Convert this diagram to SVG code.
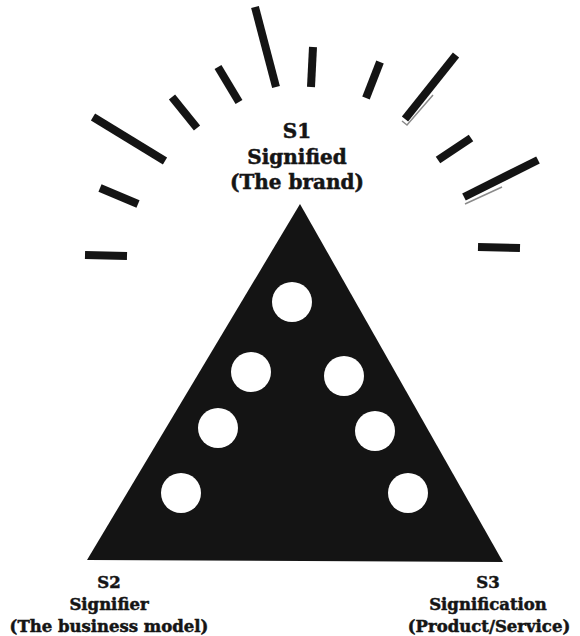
<svg xmlns="http://www.w3.org/2000/svg" width="580" height="636" viewBox="0 0 580 636">
<style>
.ray{stroke:#141414;stroke-width:8;stroke-linecap:butt;fill:none}
.shadow{stroke:#8a8a8a;stroke-width:1.5;fill:none}
.lbl{font-family:"DejaVu Serif","Liberation Serif",serif;font-weight:bold;fill:#151515;stroke:#151515;stroke-width:0.5;text-anchor:middle}
.top{font-size:20px}
.bot{font-size:16.5px}
.hole{fill:#ffffff}
</style>
<rect width="580" height="636" fill="#ffffff"/>
<g id="rays">
<line class="ray" x1="255" y1="7" x2="276" y2="87"/>
<line class="ray" x1="218" y1="67" x2="239" y2="102"/>
<line class="ray" x1="172" y1="97" x2="197" y2="128"/>
<line class="ray" x1="93" y1="117" x2="165" y2="161"/>
<line class="ray" x1="100" y1="188" x2="138" y2="204"/>
<line class="ray" x1="85" y1="255" x2="127" y2="256"/>
<line class="ray" x1="313" y1="47" x2="311" y2="87"/>
<line class="ray" x1="380" y1="62" x2="366" y2="98"/>
<line class="ray" x1="456" y1="55" x2="405" y2="119"/>
<line class="ray" x1="471" y1="138" x2="438" y2="160"/>
<line class="ray" x1="538" y1="160" x2="464" y2="197"/>
<line class="ray" x1="478" y1="247" x2="520" y2="248"/>
<polyline class="shadow" points="433,95 407,125 402,121"/>
<line class="shadow" x1="502" y1="187" x2="465" y2="204"/>
</g>
<g id="triangle">
<polygon points="300,204 87,560 503,562" fill="#141414"/>
<circle class="hole" cx="292" cy="302" r="20"/>
<circle class="hole" cx="251" cy="372" r="20"/>
<circle class="hole" cx="344" cy="376" r="20"/>
<circle class="hole" cx="218" cy="428" r="20"/>
<circle class="hole" cx="375" cy="431" r="20"/>
<circle class="hole" cx="181" cy="493" r="20"/>
<circle class="hole" cx="408" cy="493" r="20"/>
</g>
<g id="s1">
<text class="lbl top" x="297" y="138">S1</text>
<text class="lbl top" x="297" y="164">Signified</text>
<text class="lbl top" x="297" y="189">(The brand)</text>
</g>
<g id="s2">
<text class="lbl bot" x="109" y="588">S2</text>
<text class="lbl bot" x="109" y="610">Signifier</text>
<text class="lbl bot" x="109" y="632">(The business model)</text>
</g>
<g id="s3">
<text class="lbl bot" x="488" y="588">S3</text>
<text class="lbl bot" x="488" y="610">Signification</text>
<text class="lbl bot" x="489" y="632">(Product/Service)</text>
</g>
</svg>
